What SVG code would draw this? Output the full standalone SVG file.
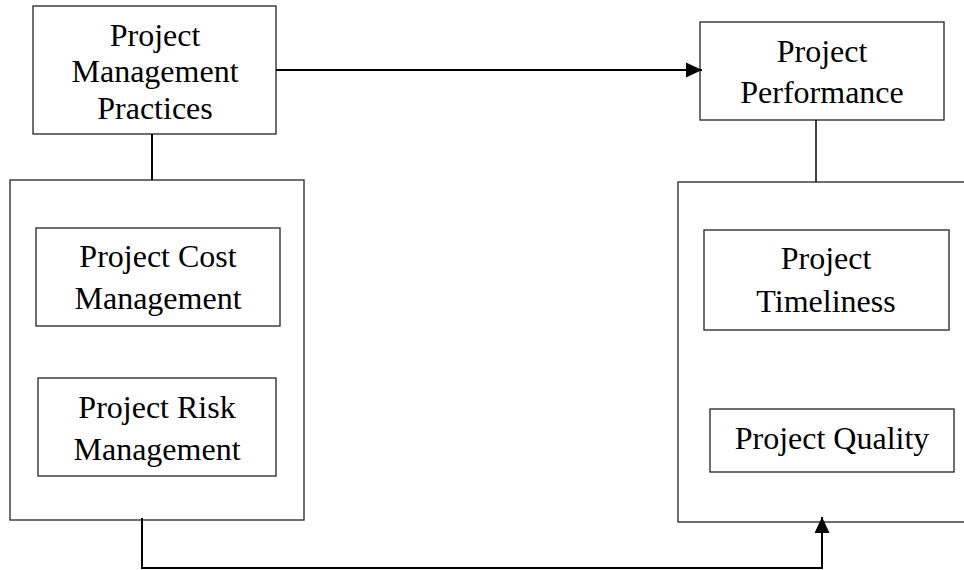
<svg xmlns="http://www.w3.org/2000/svg" width="964" height="570" viewBox="0 0 964 570">
<style>
.box{fill:#fff;stroke:#333;stroke-width:1.4}
.t{font-family:"Liberation Serif","Times New Roman",serif;font-size:32px;fill:#000;text-anchor:middle}
.c{fill:none;stroke:#000;stroke-width:2}
</style>
<defs>
<marker id="ah" markerUnits="userSpaceOnUse" markerWidth="16" markerHeight="16" refX="16" refY="8" orient="auto">
<path d="M0,0.5 L16,8 L0,15.5 Z" fill="#000"/>
</marker>
</defs>
<rect width="964" height="570" fill="#fff"/>
<g id="outer-left"><rect class="box" x="10" y="180" width="294" height="340"/></g>
<g id="outer-right"><rect class="box" x="678" y="182" width="300" height="340"/></g>
<g id="practices"><rect class="box" x="33" y="6" width="243" height="128"/>
<text class="t" x="155" y="46">Project</text><text class="t" x="155" y="82">Management</text><text class="t" x="155" y="119">Practices</text></g>
<g id="performance"><rect class="box" x="700" y="22" width="244" height="98"/>
<text class="t" x="822" y="62">Project</text><text class="t" x="822" y="103">Performance</text></g>
<g id="cost"><rect class="box" x="36" y="228" width="244" height="98"/>
<text class="t" x="158" y="267">Project Cost</text><text class="t" x="158" y="309">Management</text></g>
<g id="risk"><rect class="box" x="38" y="378" width="238" height="98"/>
<text class="t" x="157" y="418">Project Risk</text><text class="t" x="157" y="460">Management</text></g>
<g id="timeliness"><rect class="box" x="704" y="230" width="245" height="100"/>
<text class="t" x="826" y="269">Project</text><text class="t" x="826" y="312">Timeliness</text></g>
<g id="quality"><rect class="box" x="710" y="409" width="244" height="63"/>
<text class="t" x="832" y="449">Project Quality</text></g>
<g id="connectors">
<line class="c" x1="276" y1="70" x2="702" y2="70" marker-end="url(#ah)"/>
<line class="c" x1="152" y1="134" x2="152" y2="180"/>
<line class="c" x1="816" y1="120" x2="816" y2="182" style="stroke-width:1.5"/>
<polyline class="c" points="142,518 142,568 822,568 822,517" marker-end="url(#ah)"/>
</g>
</svg>
